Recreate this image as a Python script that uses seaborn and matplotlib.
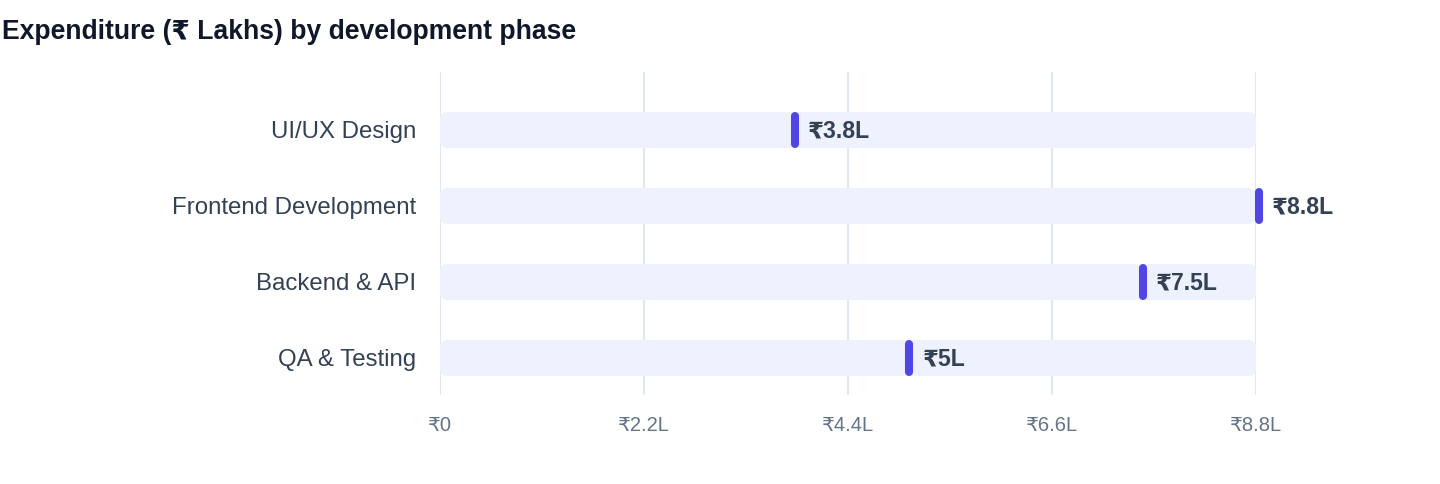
import numpy as np
import pandas as pd
import seaborn as sns
import matplotlib
matplotlib.use("Agg")
import matplotlib.pyplot as plt
import matplotlib.transforms as mtransforms
from matplotlib.patches import FancyBboxPatch

# data
phases = ["UI/UX Design", "Frontend Development", "Backend & API", "QA & Testing"]
spend = [3.8, 8.8, 7.55, 5.03]
tick_vals = [0, 2.2, 4.4, 6.6, 8.8]
tick_labels = ["₹0", "₹2.2L", "₹4.4L", "₹6.6L", "₹8.8L"]
title = "Expenditure (₹ Lakhs) by development phase"

TRACK = "#EEF1FE"
MARK = "#4F46E5"
GRID = "#E2E8F0"
TXT = "#334155"
TICK = "#64748B"
TITLE_C = "#0F172A"

sns.set_theme(style="white")
plt.rcParams['font.family'] = ['Liberation Sans', 'DejaVu Sans']

fig = plt.figure(figsize=(14.4, 4.84), dpi=100)
ax = fig.add_axes([440/1440, 1-395/484, 816/1440, 323/484])

df = pd.DataFrame({'phase': phases, 'spend': spend})
df['track'] = max(spend)

# background tracks, drawn by seaborn then given rounded corners
sns.barplot(data=df, x='track', y='phase', orient='h', color=TRACK,
            width=0.474, ax=ax, saturation=1)
for p in list(ax.patches):
    x0, y0, w, h = p.get_x(), p.get_y(), p.get_width(), p.get_height()
    p.remove()
    rb = FancyBboxPatch((x0, y0), w, h, boxstyle="round,pad=0,rounding_size=0.086",
                        mutation_aspect=1.22, fc=TRACK, ec='none', zorder=2)
    ax.add_patch(rb)

# value markers (pill shaped) and labels
shift = mtransforms.offset_copy(ax.transData, fig=fig, x=3, y=0, units='dots')
for i, v in enumerate(df['spend']):
    ax.plot([v, v], [i - 0.184, i + 0.184], color=MARK, lw=5.8,
            solid_capstyle='round', transform=shift, zorder=4, clip_on=False)
    ax.annotate(f"₹{round(v, 1):g}L", xy=(v, i), xytext=(11.5, 1.2), textcoords='offset points',
                va='center_baseline', ha='left', fontsize=16.6, fontweight='bold',
                color=TXT, zorder=5, annotation_clip=False)

ax.set_xlim(0, max(spend))
ax.set_ylim(3.487, -0.763)
ax.set_xticks(tick_vals)
ax.set_xticklabels(tick_labels)
ax.xaxis.grid(True, color=GRID, lw=1.5)
ax.yaxis.grid(False)
ax.set_axisbelow(True)
ax.tick_params(axis='x', length=0, pad=15, labelsize=14.5, labelcolor=TICK)
ax.tick_params(axis='y', length=0, pad=17, labelsize=17.3, labelcolor=TXT)
ax.set_xlabel('')
ax.set_ylabel('')
for s in ax.spines.values():
    s.set_visible(False)

fig.text(2/1440, 1-32/484, title, ha='left', va='center', fontsize=19.1,
         fontweight='bold', color=TITLE_C)

fig.savefig('out.png', dpi=100, facecolor='white')
